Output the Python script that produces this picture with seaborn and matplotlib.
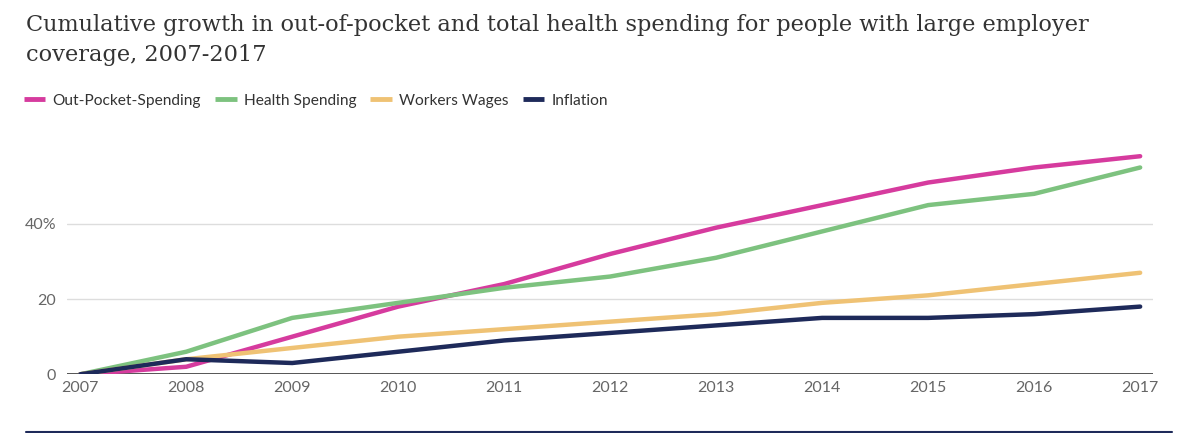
import pandas as pd
import seaborn as sns
import matplotlib.pyplot as plt
from matplotlib.lines import Line2D

# -----------------------------
# data (cumulative % growth since 2007)
# -----------------------------
years = [2007, 2008, 2009, 2010, 2011, 2012, 2013, 2014, 2015, 2016, 2017]
out_of_pocket = [0, 2, 10, 18, 24, 32, 39, 45, 51, 55, 58]
health_spending = [0, 6, 15, 19, 23, 26, 31, 38, 45, 48, 55]
workers_wages = [0, 4, 7, 10, 12, 14, 16, 19, 21, 24, 27]
inflation = [0, 4, 3, 6, 9, 11, 13, 15, 15, 16, 18]

series_names = ["Out-Pocket-Spending", "Health Spending", "Workers Wages", "Inflation"]
series_colors = ["#D63B9E", "#7DC27F", "#EFC274", "#1E2A5A"]
y_ticks = [0, 20, 40]
y_tick_labels = ["0", "20", "40%"]

df = pd.DataFrame({
    "Year": years * 4,
    "Value": out_of_pocket + health_spending + workers_wages + inflation,
    "Series": sum([[n] * len(years) for n in series_names], []),
})

# -----------------------------
# plot
# -----------------------------
sns.set_theme(style="white")
plt.rcParams["font.family"] = ["Lato", "DejaVu Sans"]

fig = plt.figure(figsize=(12, 4.33), dpi=100)
ax = fig.add_axes([0.056, 0.1356, 0.905, 0.521])

sns.lineplot(data=df, x="Year", y="Value", hue="Series",
             palette=dict(zip(series_names, series_colors)),
             linewidth=3.2, legend=False, ax=ax)

ax.set_xlim(2006.877, 2017.123)
ax.set_ylim(0, 60)
ax.set_xticks(years)
ax.set_xticklabels([str(y) for y in years])
ax.set_yticks(y_ticks)
ax.set_yticklabels(y_tick_labels)
ax.set_xlabel("")
ax.set_ylabel("")

for y in y_ticks[1:]:
    ax.axhline(y, color="#dddddd", linewidth=1, zorder=0)
ax.axhline(0, color="#555555", linewidth=1.4, zorder=1)

for s in ax.spines.values():
    s.set_visible(False)
ax.tick_params(axis="both", length=0, labelsize=11.5, labelcolor="#666666")
ax.tick_params(axis="x", pad=5)
ax.tick_params(axis="y", pad=8)

# title
fig.text(0.0217, 0.968, "Cumulative growth in out-of-pocket and total health spending for people with large employer\ncoverage, 2007-2017",
         fontsize=16.2, family="DejaVu Serif", color="#333333", va="top", ha="left", linespacing=1.5)

# legend
handles = [Line2D([0], [0], color=c, linewidth=3.5, solid_capstyle="butt") for c in series_colors]
fig.legend(handles, series_names, loc="center left", bbox_to_anchor=(0.008, 0.767),
           ncol=4, frameon=False, fontsize=11.2, handlelength=1.4, handletextpad=0.45,
           columnspacing=0.9, labelcolor="#333333")

# bottom rule
fig.add_artist(Line2D([0.0217, 0.977], [0.003, 0.003], color="#1E2A5A", linewidth=1.5))

fig.savefig("out.png", dpi=100)
